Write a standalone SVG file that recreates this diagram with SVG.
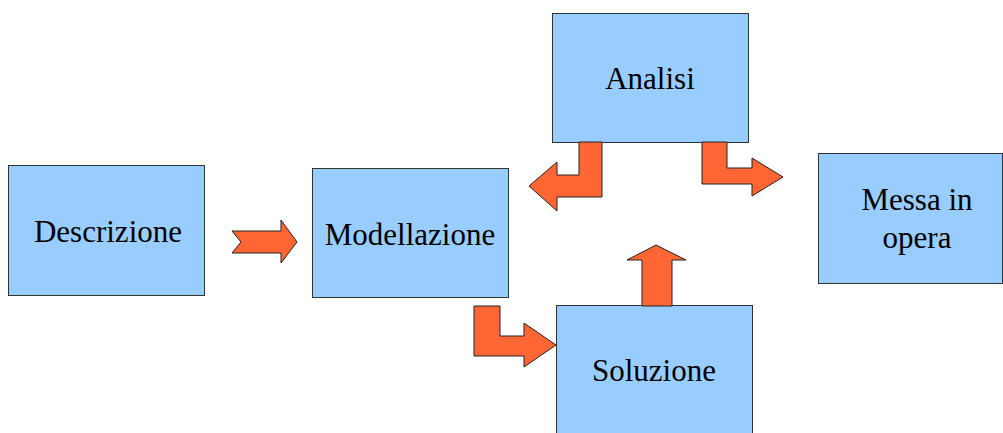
<svg xmlns="http://www.w3.org/2000/svg" width="1003" height="433" viewBox="0 0 1003 433">
<style>
.box{fill:#99ccff;stroke:#333;stroke-width:1}
.arr{fill:#ff6633;stroke:#222;stroke-width:1;stroke-linejoin:miter}
text{font-family:"Liberation Serif","Times New Roman",serif;font-size:31px;fill:#000;text-anchor:middle}
</style>
<rect width="1003" height="433" fill="#fff"/>
<g id="descrizione"><rect class="box" x="8.5" y="165.5" width="196" height="130"/><text x="108" y="242">Descrizione</text></g>
<g id="modellazione"><rect class="box" x="312.5" y="168.5" width="196" height="129"/><text x="410" y="245">Modellazione</text></g>
<g id="analisi"><rect class="box" x="552.5" y="13.5" width="196" height="129"/><text x="650" y="89">Analisi</text></g>
<g id="messa"><rect class="box" x="818.5" y="153.5" width="184" height="130"/><text x="917" y="210">Messa in</text><text x="917" y="248">opera</text></g>
<g id="soluzione"><rect class="box" x="556.5" y="305.5" width="196" height="140"/><text x="654" y="381">Soluzione</text></g>
<g id="connectors">
<polygon class="arr" points="232,231 281,231 281,220 297,242 281,263 281,253 232,253 241,242"/>
<polygon class="arr" points="602,142 602,197 557,197 557,211 529,186 557,162 557,175 579,175 579,142"/>
<polygon class="arr" points="702,142 727,142 727,168 752,168 752,158 783,177 752,196 752,184 702,184"/>
<polygon class="arr" points="474,306 500,306 500,336 524,336 524,323 556,345 524,367 524,356 474,356"/>
<polygon class="arr" points="642,306 642,260 627,260 656,245 686,260 672,260 672,306"/>
</g>
</svg>
